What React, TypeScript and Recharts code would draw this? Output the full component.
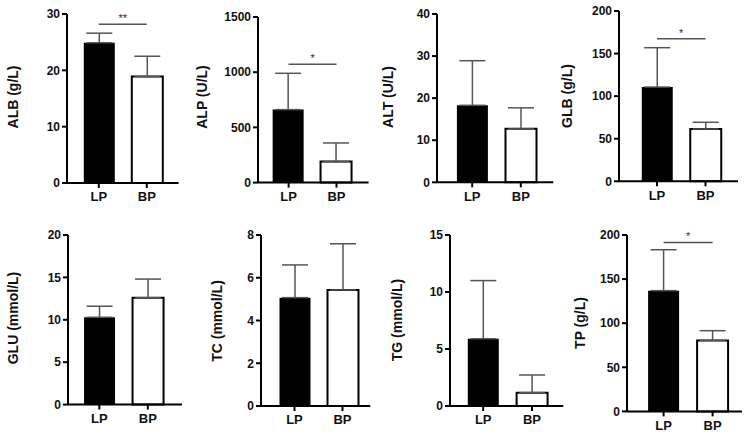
import React from 'react';
import { BarChart, Bar, XAxis, YAxis, ErrorBar, ReferenceLine, Cell } from 'recharts';

const groups = ['LP', 'BP'];

const albMean = [24.9, 18.9];
const albSd = [1.7, 3.6];
const alpMean = [661, 190];
const alpSd = [329, 169];
const altMean = [18.3, 12.7];
const altSd = [10.6, 5.0];
const glbMean = [110.7, 61.4];
const glbSd = [46.2, 7.9];
const gluMean = [10.3, 12.6];
const gluSd = [1.3, 2.2];
const tcMean = [5.07, 5.43];
const tcSd = [1.53, 2.16];
const tgMean = [5.9, 1.17];
const tgSd = [5.1, 1.55];
const tpMean = [136.9, 80.5];
const tpSd = [46.4, 11.0];

const albTicks = [0, 10, 20, 30];
const alpTicks = [0, 500, 1000, 1500];
const altTicks = [0, 10, 20, 30, 40];
const glbTicks = [0, 50, 100, 150, 200];
const gluTicks = [0, 5, 10, 15, 20];
const tcTicks = [0, 2, 4, 6, 8];
const tgTicks = [0, 5, 10, 15];
const tpTicks = [0, 50, 100, 150, 200];

const FONT = '"Liberation Sans", Arial, Helvetica, sans-serif';
const YW = 44;
const MT = 12;
const MB = 30;
const MR = 4;

interface PanelSpec {
  title: string;
  mean: number[];
  sd: number[];
  ticks: number[];
  sig?: { y: number; stars: string };
  // pixel layout of the plot frame
  axisX: number;
  axisEnd: number;
  lp: number;
  bp: number;
  top: number;
  zero: number;
  labelX: number;
  labelY: number;
}

const panels: PanelSpec[] = [
  { title: 'ALB (g/L)', mean: albMean, sd: albSd, ticks: albTicks, sig: { y: 28.2, stars: '**' },
    axisX: 66.7, axisEnd: 178.3, lp: 98.5, bp: 146.5, top: 14, zero: 183, labelX: 13, labelY: 97 },
  { title: 'ALP (U/L)', mean: alpMean, sd: alpSd, ticks: alpTicks, sig: { y: 1071, stars: '*' },
    axisX: 257.7, axisEnd: 368.3, lp: 288.3, bp: 336.2, top: 16.7, zero: 182.3, labelX: 202, labelY: 97 },
  { title: 'ALT (U/L)', mean: altMean, sd: altSd, ticks: altTicks,
    axisX: 437, axisEnd: 553.3, lp: 472.2, bp: 520.8, top: 14, zero: 182.3, labelX: 388, labelY: 97 },
  { title: 'GLB (g/L)', mean: glbMean, sd: glbSd, ticks: glbTicks, sig: { y: 167.5, stars: '*' },
    axisX: 619.3, axisEnd: 738.3, lp: 657.3, bp: 705.8, top: 11, zero: 181.3, labelX: 567, labelY: 96 },
  { title: 'GLU (mmol/L)', mean: gluMean, sd: gluSd, ticks: gluTicks,
    axisX: 67.7, axisEnd: 181.7, lp: 99, bp: 147.5, top: 234.7, zero: 404.3, labelX: 13, labelY: 318 },
  { title: 'TC (mmol/L)', mean: tcMean, sd: tcSd, ticks: tcTicks,
    axisX: 260.7, axisEnd: 370, lp: 294.2, bp: 342.2, top: 235, zero: 406, labelX: 217, labelY: 321 },
  { title: 'TG (mmol/L)', mean: tgMean, sd: tgSd, ticks: tgTicks,
    axisX: 450, axisEnd: 563.3, lp: 483.2, bp: 532, top: 235, zero: 406, labelX: 397, labelY: 320 },
  { title: 'TP (g/L)', mean: tpMean, sd: tpSd, ticks: tpTicks, sig: { y: 191.6, stars: '*' },
    axisX: 626.7, axisEnd: 741.7, lp: 663.3, bp: 712.3, top: 235.3, zero: 411.7, labelX: 580, labelY: 323 },
];

const Panel: React.FC<{ p: PanelSpec }> = ({ p }) => {
  const band = p.bp - p.lp;
  const padL = p.lp - p.axisX - band / 2;
  const padR = p.axisEnd - p.bp - band / 2;
  const plotW = p.axisEnd - p.axisX;
  const plotH = p.zero - p.top;
  const data = groups.map((g, i) => ({ group: g, mean: p.mean[i], err: [0, p.sd[i]] }));
  const max = p.ticks[p.ticks.length - 1];

  return (
    <div style={{ position: 'absolute', left: p.axisX - YW, top: p.top - MT }}>
      <BarChart
        width={YW + plotW + MR}
        height={MT + plotH + MB}
        data={data}
        margin={{ top: MT, right: MR, bottom: 0, left: 0 }}
      >
        <XAxis
          dataKey="group"
          height={MB}
          padding={{ left: padL, right: padR }}
          stroke="#000"
          strokeWidth={2}
          tickSize={5}
          tickMargin={4}
          tick={{ fill: '#111', fontSize: 13, fontWeight: 700, fontFamily: FONT }}
        />
        <YAxis
          width={YW}
          domain={[0, max]}
          ticks={p.ticks}
          interval={0}
          stroke="#000"
          strokeWidth={2}
          tickSize={5}
          tickMargin={2}
          tick={{ fill: '#111', fontSize: 12, fontWeight: 700, fontFamily: FONT }}
        />
        <Bar dataKey="mean" barSize={31} isAnimationActive={false}>
          {data.map((d, i) => (
            <Cell key={d.group} fill={i === 0 ? '#000' : '#fff'} stroke="#000" strokeWidth={i === 0 ? 0 : 2} />
          ))}
          <ErrorBar dataKey="err" width={13} stroke="#555" strokeWidth={1.5} direction="y" isAnimationActive={false} />
        </Bar>
        {p.sig && (
          <ReferenceLine
            segment={[{ x: 'LP', y: p.sig.y }, { x: 'BP', y: p.sig.y }]}
            stroke="#555"
            strokeWidth={1.5}
            ifOverflow="visible"
            label={{ value: p.sig.stars, position: 'top', offset: 2, fill: '#333', fontSize: 11, fontFamily: FONT }}
          />
        )}
      </BarChart>
    </div>
  );
};

export default function App() {
  return (
    <div style={{ position: 'absolute', left: 0, top: 0, width: 749, height: 440, background: '#fff', fontFamily: FONT }}>
      {panels.map((p) => (
        <Panel key={p.title} p={p} />
      ))}
      {/* y-axis titles sit outside each chart's own svg box */}
      <svg width={749} height={440} style={{ position: 'absolute', left: 0, top: 0, pointerEvents: 'none' }}>
        {panels.map((p) => (
          <text
            key={p.title}
            x={p.labelX}
            y={p.labelY}
            transform={`rotate(-90 ${p.labelX} ${p.labelY})`}
            textAnchor="middle"
            dominantBaseline="central"
            fill="#111"
            fontSize={14}
            fontWeight={700}
            fontFamily={FONT}
          >
            {p.title}
          </text>
        ))}
      </svg>
    </div>
  );
}
